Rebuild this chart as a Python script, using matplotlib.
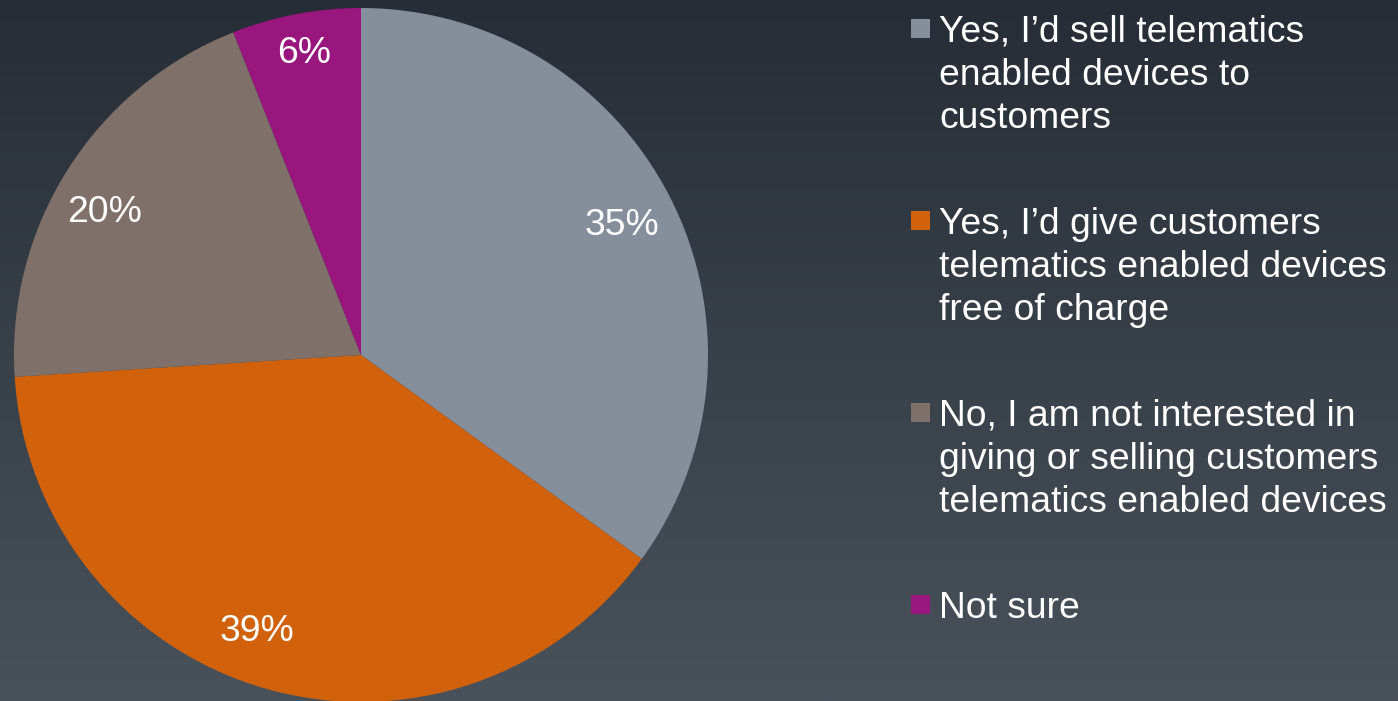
import numpy as np
import matplotlib
matplotlib.use("Agg")
import matplotlib.pyplot as plt
from matplotlib.patches import Rectangle
from matplotlib.colors import LinearSegmentedColormap

# ---- data ----
labels = [
    "Yes, I\u2019d sell telematics\nenabled devices to\ncustomers",
    "Yes, I\u2019d give customers\ntelematics enabled devices\nfree of charge",
    "No, I am not interested in\ngiving or selling customers\ntelematics enabled devices",
    "Not sure",
]
values = [35, 39, 20, 6]
colors = ["#858e9b", "#d1610b", "#7f7169", "#98167d"]

W, H = 1398, 701
plt.rcParams['font.family'] = ['Liberation Sans', 'DejaVu Sans']
fig = plt.figure(figsize=(W / 100, H / 100), dpi=100)

# background gradient
bg = fig.add_axes([0, 0, 1, 1])
cmap = LinearSegmentedColormap.from_list("bg", ["#262d36", "#49525b"])
grad = np.linspace(0, 1, 256).reshape(-1, 1)
bg.imshow(grad, aspect='auto', cmap=cmap, extent=[0, 1, 0, 1], origin='upper')
bg.set_axis_off()

# pie axes
cx, cy, r = 361, 355, 347
ax = fig.add_axes([(cx - r) / W, (H - cy - r) / H, 2 * r / W, 2 * r / H])
ax.set_facecolor('none')
wedges, texts, autotexts = ax.pie(
    values, colors=colors, startangle=90, counterclock=False,
    autopct=lambda p: f"{p:.0f}%", pctdistance=0.84,
    wedgeprops=dict(linewidth=0), textprops=dict(color='white', fontsize=26.8))
ax.set_xlim(-1, 1)
ax.set_ylim(-1, 1)
ax.set_aspect('equal')
ax.set_axis_off()

# label placement (PowerPoint best-fit style), in pie-radius units
label_xy = [(0.752, 0.386), (-0.300, -0.784), (-0.738, 0.421), (-0.164, 0.879)]
for t, (lx, ly) in zip(autotexts, label_xy):
    t.set_position((lx, ly))
    t.set_ha('center')
    t.set_va('center_baseline')

# legend drawn manually (marker aligned with first line)
line_h = 43
gap = 63
y = 42  # baseline of first line in pixels from top
for lab, col in zip(labels, colors):
    lines = lab.split("\n")
    fig.patches.append(Rectangle((911 / W, 1 - (y - 4) / H), 19 / W, 19 / H,
                                 transform=fig.transFigure, facecolor=col,
                                 edgecolor='none'))
    for k, ln in enumerate(lines):
        fig.text(939 / W, 1 - (y + k * line_h) / H, ln, color='white',
                 fontsize=26.8, ha='left', va='baseline')
    y += len(lines) * line_h + gap

fig.savefig("out.png", dpi=100)
